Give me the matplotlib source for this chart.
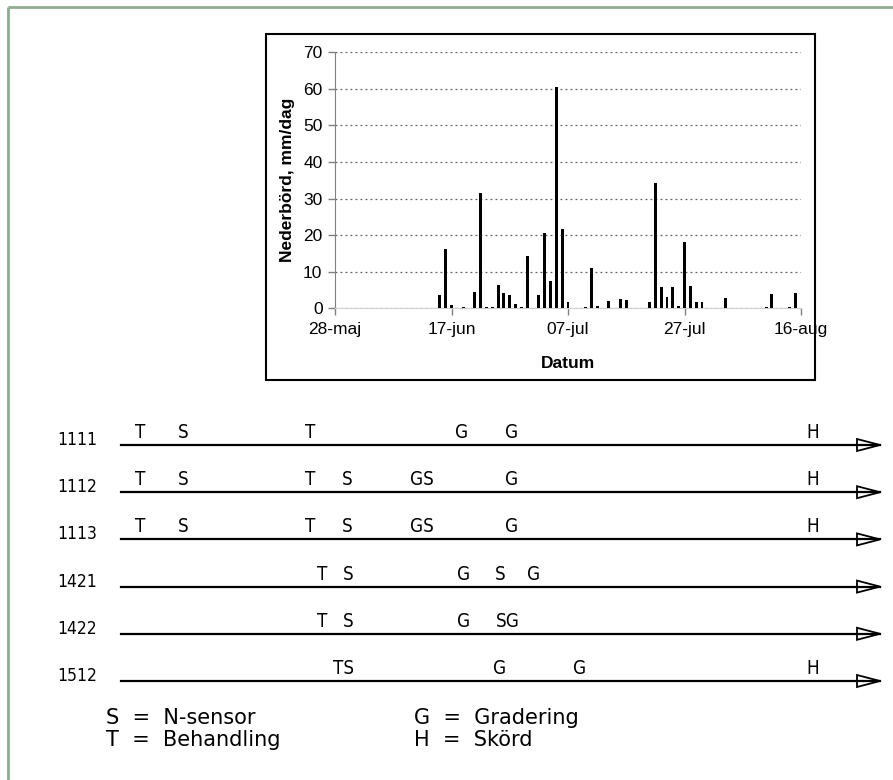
import matplotlib
matplotlib.use('Agg')
import matplotlib.pyplot as plt
from matplotlib.patches import Rectangle, Polygon

# daily precipitation, days counted from 28 May
days = [18, 19, 20, 22, 24, 25, 26, 27, 28, 29, 30, 31, 32, 33, 35, 36, 37,
        38, 39, 40, 43, 44, 45, 47, 49, 50, 54, 55, 56, 57, 58, 59, 60, 61,
        62, 63, 67, 74, 75, 78, 79]
rain = [3.7, 16.1, 1.0, 0.3, 4.4, 31.5, 0.3, 0.3, 6.4, 4.3, 3.6, 1.2, 0.4,
        14.3, 3.6, 20.5, 7.6, 60.6, 21.7, 1.6, 0.3, 11.0, 0.7, 2.0, 2.5, 2.3,
        1.7, 34.2, 5.9, 3.2, 5.7, 0.5, 18.0, 6.0, 1.8, 1.8, 2.9, 0.3, 4.0,
        0.3, 4.1]
date_ticks = [0, 20, 40, 60, 80]
date_labels = ['28-maj', '17-jun', '07-jul', '27-jul', '16-aug']

# field trial timelines (letter, horizontal position in px)
plots = ['1111', '1112', '1113', '1421', '1422', '1512']
events = [
    [('T', 140), ('S', 183), ('T', 310), ('G', 462), ('G', 512), ('H', 813)],
    [('T', 140), ('S', 183), ('T', 310), ('S', 347), ('GS', 422), ('G', 512), ('H', 813)],
    [('T', 140), ('S', 183), ('T', 310), ('S', 347), ('GS', 422), ('G', 512), ('H', 813)],
    [('T', 322), ('S', 348), ('G', 464), ('S', 500), ('G', 534)],
    [('T', 322), ('S', 348), ('G', 464), ('SG', 508)],
    [('TS', 344), ('G', 500), ('G', 580), ('H', 813)],
]
legend_left = ['S  =  N-sensor', 'T  =  Behandling']
legend_right = ['G  =  Gradering', 'H  =  Skörd']

W, H = 893, 780
fig = plt.figure(figsize=(W / 100, H / 100), dpi=100)

# full-figure layer for the drawing
bg = fig.add_axes([0, 0, 1, 1])
bg.set_xlim(0, W)
bg.set_ylim(H, 0)
bg.axis('off')

border = '#8fac8f'
bg.plot([8, W], [7, 7], color=border, lw=2, solid_capstyle='butt')
bg.plot([8, 8], [7, H], color=border, lw=2, solid_capstyle='butt')

bg.add_patch(Rectangle((266, 34), 549, 346, facecolor='white',
                       edgecolor='black', lw=1.5))

cad = dict(family='DejaVu Sans', stretch='condensed')
line_x0, line_x1 = 121, 880
row_y0, row_step = 445, 47.2
for i, (name, ev) in enumerate(zip(plots, events)):
    y = row_y0 + i * row_step
    bg.plot([line_x0, line_x1], [y, y], color='black', lw=1.6)
    bg.add_patch(Polygon([[857, y - 6], [880, y], [857, y + 6]], closed=True,
                         facecolor='white', edgecolor='black', lw=1.3))
    bg.text(57, y - 5, name, fontsize=12.5, va='center', ha='left', **cad)
    for letter, x in ev:
        bg.text(x, y - 3, letter, fontsize=13.5, ha='center', va='bottom',
                **cad)

for j, (a, b) in enumerate(zip(legend_left, legend_right)):
    y = 718 + j * 22
    bg.text(106, y, a, fontsize=15, va='center', ha='left',
            family='DejaVu Sans')
    bg.text(414, y, b, fontsize=15, va='center', ha='left',
            family='DejaVu Sans')

# precipitation chart
plt.rcParams['font.family'] = ['Liberation Sans', 'DejaVu Sans']
ax = fig.add_axes([335 / W, 1 - 308.3 / H, (801 - 335) / W, 256 / H])
ax.set_facecolor('none')
ax.bar(days, rain, width=0.5, color='black', zorder=3)
ax.set_xlim(0, 80)
ax.set_ylim(0, 70)
ax.set_yticks(range(0, 71, 10))
ax.set_xticks(date_ticks)
ax.set_xticklabels(date_labels)
ax.yaxis.grid(True, linestyle=(0, (1.5, 2.5)), color='#606060', lw=0.9)
ax.set_axisbelow(True)
for s in ['top', 'right']:
    ax.spines[s].set_visible(False)
ax.spines['left'].set_color('#808080')
ax.spines['bottom'].set_color('#d0d0d0')
ax.tick_params(axis='both', direction='out', length=5, color='#808080',
               labelsize=12.5, width=1)
ax.tick_params(axis='x', pad=5)
ax.tick_params(axis='y', pad=4)
ax.set_xlabel('Datum', fontsize=12.5, fontweight='bold', labelpad=13.5)
ax.set_ylabel('Nederbörd, mm/dag', fontsize=12.5, fontweight='bold',
              labelpad=6)

fig.savefig('out.png', dpi=100)
